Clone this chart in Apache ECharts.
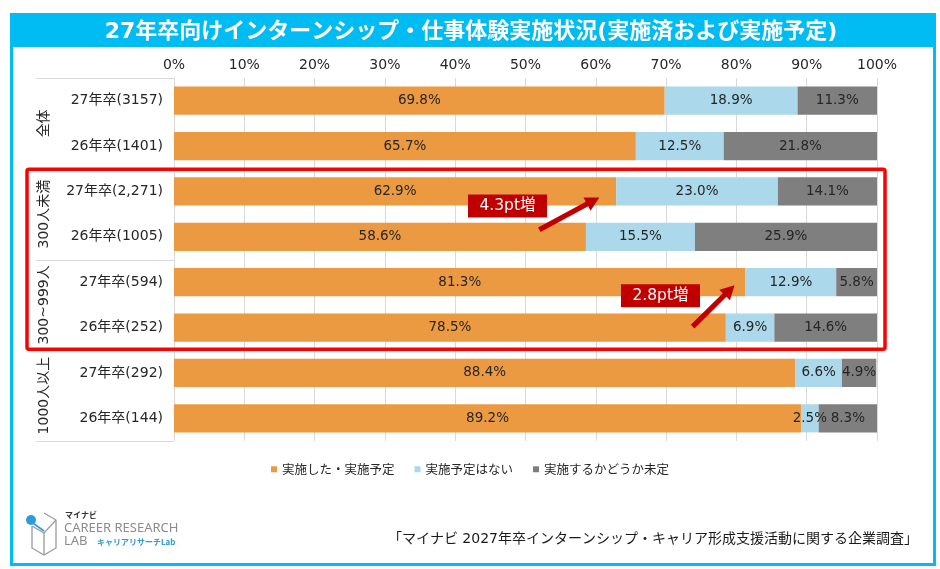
<!DOCTYPE html>
<html><head><meta charset="utf-8">
<script src="https://cdn.jsdelivr.net/npm/echarts@6/dist/echarts.min.js"></script>
<style>html,body{margin:0;padding:0;background:#fff}#c{width:940px;height:569px}</style>
</head><body><div id="c"></div>
<script>
const titleText = '27年卒向けインターンシップ・仕事体験実施状況(実施済および実施予定)';
const categories = ['27年卒(3157)','26年卒(1401)','27年卒(2,271)','26年卒(1005)','27年卒(594)','26年卒(252)','27年卒(292)','26年卒(144)'];
const groups = ['全体','300人未満','300~999人','1000人以上'];
const seriesNames = ['実施した・実施予定','実施予定はない','実施するかどうか未定'];
const implemented = [69.8,65.7,62.9,58.6,81.3,78.5,88.4,89.2];
const notPlanned  = [18.9,12.5,23.0,15.5,12.9,6.9,6.6,2.5];
const undecided   = [11.3,21.8,14.1,25.9,5.8,14.6,4.9,8.3];
const xTicks = [0,10,20,30,40,50,60,70,80,90,100];
const notes = ['4.3pt増','2.8pt増'];
const footer = '「マイナビ 2027年卒インターンシップ・キャリア形成支援活動に関する企業調査」';

const FONT = '"DejaVu Sans","Noto Sans CJK JP",sans-serif';
const colors = ['#EC9A42','#ABD8EA','#7F7F7F'];
const chart = echarts.init(document.getElementById('c'), null, {renderer:'canvas'});

function mkSeries(name, data, i){
  return {
    name, type:'bar', stack:'s', data, barCategoryGap:'38%',
    itemStyle:{color:colors[i]},
    label:{show:true, position:'inside', formatter:p=>p.value.toFixed(1)+'%',
      color:'#262626', fontSize:13.5, fontFamily:FONT},
    emphasis:{disabled:true}, animation:false
  };
}

const option = {
  animation:false,
  textStyle:{fontFamily:FONT},
  grid:{left:174, right:63, top:78, bottom:128, containLabel:false},
  xAxis:{type:'value', position:'top', min:xTicks[0], max:xTicks[xTicks.length-1], interval:10,
    axisLabel:{formatter:'{value}%', color:'#262626', fontSize:14, margin:6, fontFamily:FONT},
    axisLine:{show:false}, axisTick:{show:false},
    splitLine:{lineStyle:{color:'#D9D9D9', width:1}}},
  yAxis:{type:'category', data:categories, inverse:true,
    axisLabel:{color:'#262626', fontSize:14, margin:11, fontFamily:FONT},
    axisLine:{show:true, lineStyle:{color:'#D9D9D9'}}, axisTick:{show:false}},
  legend:{data:seriesNames, top:458, left:'center', icon:'rect', itemWidth:6, itemHeight:6,
    itemGap:20, textStyle:{fontSize:12.5, color:'#262626', fontFamily:'"Noto Sans CJK JP",sans-serif'}},
  series:[mkSeries(seriesNames[0],implemented,0), mkSeries(seriesNames[1],notPlanned,1), mkSeries(seriesNames[2],undecided,2)]
};
chart.setOption(option);

// positions from the chart's scales
const px = (v, cat) => chart.convertToPixel({gridIndex:0}, [v, cat]);
const yOf = i => px(0, i)[1];
const band = yOf(1) - yOf(0);
const gridTop = yOf(0) - band/2;

function arrow(x1,y1,x2,y2,color){
  const dx=x2-x1, dy=y2-y1, L=Math.hypot(dx,dy), ux=dx/L, uy=dy/L, nx=-uy, ny=ux;
  const sw=2.6, hw=7.5, hl=14;
  const bx=x2-ux*hl, by=y2-uy*hl;
  return {type:'polygon', shape:{points:[
    [x1+nx*sw,y1+ny*sw],[bx+nx*sw,by+ny*sw],[bx+nx*hw,by+ny*hw],[x2,y2],
    [bx-nx*hw,by-ny*hw],[bx-nx*sw,by-ny*sw],[x1-nx*sw,y1-ny*sw]]},
    style:{fill:color}, z:20};
}

const g = [];
// outer frame and title bar
g.push({type:'rect', shape:{x:11.5,y:14.5,width:923,height:550}, style:{fill:'none', stroke:'#00BCF2', lineWidth:3}, z:1});
g.push({type:'rect', shape:{x:11,y:14,width:924,height:33}, style:{fill:'#00BCF2'}, z:1});
g.push({type:'text', x:471, y:32, style:{text:titleText, fill:'#fff', font:'bold 22px '+FONT, align:'center', verticalAlign:'middle'}, z:2});

// group separators and vertical group labels
const sepX1 = 36, sepX2 = px(0,0)[0];
for (let k=0;k<=4;k++){
  const y = Math.round(gridTop + band*2*k) + 0.5;
  g.push({type:'line', shape:{x1:sepX1,y1:y,x2:sepX2,y2:y}, style:{stroke:'#D9D9D9', lineWidth:1}, z:3});
}
groups.forEach((t,k)=>{
  const yc = (yOf(2*k)+yOf(2*k+1))/2;
  g.push({type:'text', x:44, y:yc, rotation:Math.PI/2, style:{text:t, fill:'#262626', font:'14px '+FONT, align:'center', verticalAlign:'middle'}, z:3});
});

// red highlight box around the two middle groups
const boxTop = gridTop + band*2 + 0.5, boxBot = gridTop + band*6 - 1;
g.push({type:'rect', shape:{x:27, y:boxTop, width:858, height:boxBot-boxTop, r:2}, style:{fill:'none', stroke:'#FF0000', lineWidth:3.5}, z:15});

// annotations
const a1h = px(60.5, 2), a2h = px(80.6, 4);
const a1 = {hx:a1h[0], hy:yOf(2)+6, tx:a1h[0]-60, ty:yOf(3)-7};
const a2 = {hx:a2h[0]-6, hy:yOf(4)+3, tx:a2h[0]-48, ty:yOf(5)-1};
g.push(arrow(a1.tx,a1.ty,a1.hx,a1.hy,'#C00000'));
g.push(arrow(a2.tx,a2.ty,a2.hx,a2.hy,'#C00000'));
const boxes = [[468, yOf(2)+3], [621, yOf(4)+2]];
boxes.forEach((b,i)=>{
  g.push({type:'rect', shape:{x:b[0], y:b[1], width:79, height:23}, style:{fill:'#C00000'}, z:21});
  g.push({type:'text', x:b[0]+39.5, y:b[1]+12, style:{text:notes[i], fill:'#fff', font:'15.5px '+FONT, align:'center', verticalAlign:'middle'}, z:22});
});

// footer source
g.push({type:'text', x:918, y:539, style:{text:footer, fill:'#1a1a1a', font:'14px '+FONT, align:'right', verticalAlign:'middle'}, z:3});

// logo
g.push({type:'polyline', shape:{points:[[44,513],[56,520],[56,548],[44,555],[32,548],[32,526]]}, style:{stroke:'#9A9A9A', lineWidth:1.3, fill:'none'}, z:3});
g.push({type:'polyline', shape:{points:[[32,526],[44,533],[56,520]]}, style:{stroke:'#9A9A9A', lineWidth:1.3, fill:'none'}, z:3});
g.push({type:'polyline', shape:{points:[[44,533],[44,555]]}, style:{stroke:'#9A9A9A', lineWidth:1.3, fill:'none'}, z:3});
g.push({type:'polyline', shape:{points:[[30,521],[44,531]]}, style:{stroke:'#2E9CDB', lineWidth:1.6, fill:'none'}, z:4});
g.push({type:'circle', shape:{cx:31, cy:520, r:5}, style:{fill:'#2E9CDB'}, z:4});
g.push({type:'text', x:65, y:515, style:{text:'マイナビ', fill:'#333', font:'bold 8px "Noto Sans CJK JP"', verticalAlign:'middle'}, z:3});
g.push({type:'text', x:64, y:528, style:{text:'CAREER RESEARCH', fill:'#8C8C8C', font:'13px "Liberation Sans Narrow","Noto Sans",sans-serif', verticalAlign:'middle'}, z:3});
g.push({type:'text', x:64, y:541, style:{text:'LAB', fill:'#8C8C8C', font:'13px "Liberation Sans Narrow","Noto Sans",sans-serif', verticalAlign:'middle'}, z:3});
g.push({type:'text', x:97, y:542, style:{text:'キャリアリサーチLab', fill:'#2E9CDB', font:'bold 8px "Noto Sans CJK JP"', verticalAlign:'middle'}, z:3});

chart.setOption({graphic:{elements:g}});
</script></body></html>
